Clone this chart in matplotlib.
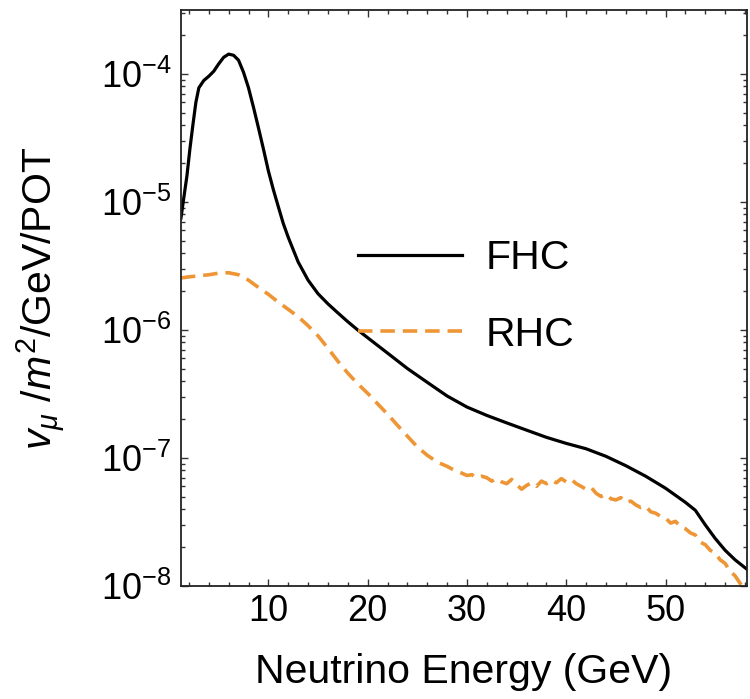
import matplotlib
matplotlib.use("Agg")
import matplotlib.pyplot as plt
from matplotlib.ticker import FixedLocator, FixedFormatter, MultipleLocator, LogLocator, NullFormatter

plt.rcParams['font.family'] = ['Liberation Sans', 'DejaVu Sans']
plt.rcParams['mathtext.fontset'] = 'custom'
plt.rcParams['mathtext.rm'] = 'Liberation Sans'
plt.rcParams['mathtext.it'] = 'Liberation Sans:italic'
plt.rcParams['mathtext.bf'] = 'Liberation Sans:bold'

# Forward horn current flux (numu per m^2 per GeV per POT)
fhc_energy = [1.2, 1.5, 1.8, 2.1, 2.4, 2.7, 3.0, 3.5, 4.0, 4.5, 5.0, 5.5, 6.0, 6.5,
              7.0, 7.5, 8.0, 8.5, 9.0, 9.5, 10.0, 10.5, 11.0, 11.5, 12.0, 13.0,
              14.0, 15.0, 16.0, 17.0, 18.0, 19.0, 20.0, 22.0, 24.0, 26.0, 28.0,
              30.0, 32.0, 34.0, 36.0, 38.0, 40.0, 42.0, 44.0, 46.0, 48.0, 50.0,
              52.0, 53.0, 54.0, 55.0, 56.0, 57.0, 58.2]
fhc_flux = [7.5e-6, 1.1e-5, 1.6e-5, 2.6e-5, 4.0e-5, 6.0e-5, 7.8e-5, 8.9e-5, 9.6e-5,
            1.05e-4, 1.2e-4, 1.35e-4, 1.43e-4, 1.4e-4, 1.28e-4, 1.03e-4, 7.8e-5,
            5.5e-5, 3.8e-5, 2.6e-5, 1.75e-5, 1.25e-5, 9.2e-6, 6.8e-6, 5.3e-6,
            3.4e-6, 2.45e-6, 1.92e-6, 1.6e-6, 1.36e-6, 1.16e-6, 1.0e-6, 8.7e-7,
            6.6e-7, 5.0e-7, 3.9e-7, 3.05e-7, 2.5e-7, 2.15e-7, 1.88e-7, 1.65e-7,
            1.45e-7, 1.3e-7, 1.18e-7, 1.03e-7, 8.7e-8, 7.2e-8, 5.8e-8, 4.5e-8,
            3.9e-8, 3.0e-8, 2.35e-8, 1.9e-8, 1.6e-8, 1.35e-8]

# Reverse horn current flux
rhc_energy = [1.2, 2, 3, 4, 5, 6, 7, 8, 9, 10, 11, 12, 13, 14, 15, 16, 17, 18, 19,
              20, 21, 22, 23, 24, 25, 26, 27, 28, 28.5, 29, 29.5, 30, 30.5, 31,
              31.5, 32, 32.5, 33, 33.5, 34, 34.5, 35, 35.5, 36, 36.5, 37, 37.5,
              38, 38.5, 39, 39.5, 40, 40.5, 41, 41.5, 42, 42.5, 43, 43.5, 44,
              44.5, 45, 45.5, 46, 46.5, 47, 47.5, 48, 48.5, 49, 49.5, 50, 50.5,
              51, 51.5, 52, 52.5, 53, 53.5, 54, 54.5, 55, 55.5, 56, 56.5, 57,
              57.5, 58]
rhc_flux = [2.55e-6, 2.6e-6, 2.65e-6, 2.7e-6, 2.78e-6, 2.8e-6, 2.7e-6, 2.45e-6,
            2.15e-6, 1.9e-6, 1.65e-6, 1.45e-6, 1.27e-6, 1.08e-6, 9.0e-7, 7.2e-7,
            5.7e-7, 4.6e-7, 3.8e-7, 3.2e-7, 2.65e-7, 2.2e-7, 1.8e-7, 1.48e-7,
            1.22e-7, 1.05e-7, 9.3e-8, 8.6e-8, 8.2e-8, 7.9e-8, 7.6e-8, 7.3e-8,
            7.4e-8, 7.0e-8, 7.2e-8, 7.0e-8, 6.6e-8, 6.9e-8, 6.5e-8, 6.3e-8,
            6.8e-8, 6.2e-8, 5.7e-8, 6.1e-8, 6.4e-8, 6.0e-8, 6.6e-8, 6.3e-8,
            6.7e-8, 6.4e-8, 6.9e-8, 6.5e-8, 6.8e-8, 6.3e-8, 6.0e-8, 5.7e-8,
            5.9e-8, 5.3e-8, 5.0e-8, 5.2e-8, 4.8e-8, 4.7e-8, 4.9e-8, 4.5e-8,
            4.6e-8, 4.3e-8, 4.1e-8, 4.2e-8, 3.8e-8, 3.7e-8, 3.5e-8, 3.4e-8,
            3.1e-8, 3.2e-8, 2.9e-8, 2.8e-8, 2.6e-8, 2.5e-8, 2.2e-8, 2.1e-8,
            1.9e-8, 1.8e-8, 1.6e-8, 1.5e-8, 1.3e-8, 1.2e-8, 1.05e-8, 9.2e-9]

series_labels = ["FHC", "RHC"]
x_ticks = [10, 20, 30, 40, 50]
x_ticklabels = ["10", "20", "30", "40", "50"]
y_ticks = [1e-8, 1e-7, 1e-6, 1e-5, 1e-4]
y_ticklabels = [r"$\mathregular{10^{-8}}$", r"$\mathregular{10^{-7}}$",
                r"$\mathregular{10^{-6}}$", r"$\mathregular{10^{-5}}$",
                r"$\mathregular{10^{-4}}$"]

fig = plt.figure(figsize=(7.5, 6.99), dpi=100)
ax = fig.add_axes([0.2413, 0.1617, 0.7547, 0.824])

orange = "#EE9535"
ax.plot(fhc_energy, fhc_flux, color="black", lw=2.3, label=series_labels[0])
ax.plot(rhc_energy, rhc_flux, color=orange, lw=2.6, dashes=(4.0, 2.2),
        label=series_labels[1])

ax.set_yscale("log")
ax.set_xlim(1.2, 58.2)
ax.set_ylim(1e-8, 10 ** -3.5)

ax.xaxis.set_major_locator(FixedLocator(x_ticks))
ax.xaxis.set_major_formatter(FixedFormatter(x_ticklabels))
ax.xaxis.set_minor_locator(MultipleLocator(2))
ax.yaxis.set_major_locator(FixedLocator(y_ticks))
ax.yaxis.set_major_formatter(FixedFormatter(y_ticklabels))
ax.yaxis.set_minor_locator(LogLocator(base=10, subs=range(2, 10), numticks=20))
ax.yaxis.set_minor_formatter(NullFormatter())

ax.tick_params(which="both", direction="in", top=True, right=True,
               labelsize=26, width=1.0, color="#333333")
ax.tick_params(which="major", length=5)
ax.tick_params(which="minor", length=2.8)
ax.tick_params(axis="x", which="major", pad=6)
ax.tick_params(axis="y", which="major", pad=7)
for s in ax.spines.values():
    s.set_linewidth(1.3)
    s.set_color("#222222")

ax.set_xlabel("Neutrino Energy (GeV)", fontsize=29.5, labelpad=17)
ax.set_ylabel(r"$v_{\mu}\ /m^{2}$/GeV/POT", fontsize=29.5, labelpad=24)

ax.legend(loc="upper left", bbox_to_anchor=(0.313, 0.6024), frameon=False,
          fontsize=29.5, handlelength=2.54, handletextpad=0.56,
          labelspacing=0.94, borderpad=0, borderaxespad=0)

fig.savefig("out.png", dpi=100)
